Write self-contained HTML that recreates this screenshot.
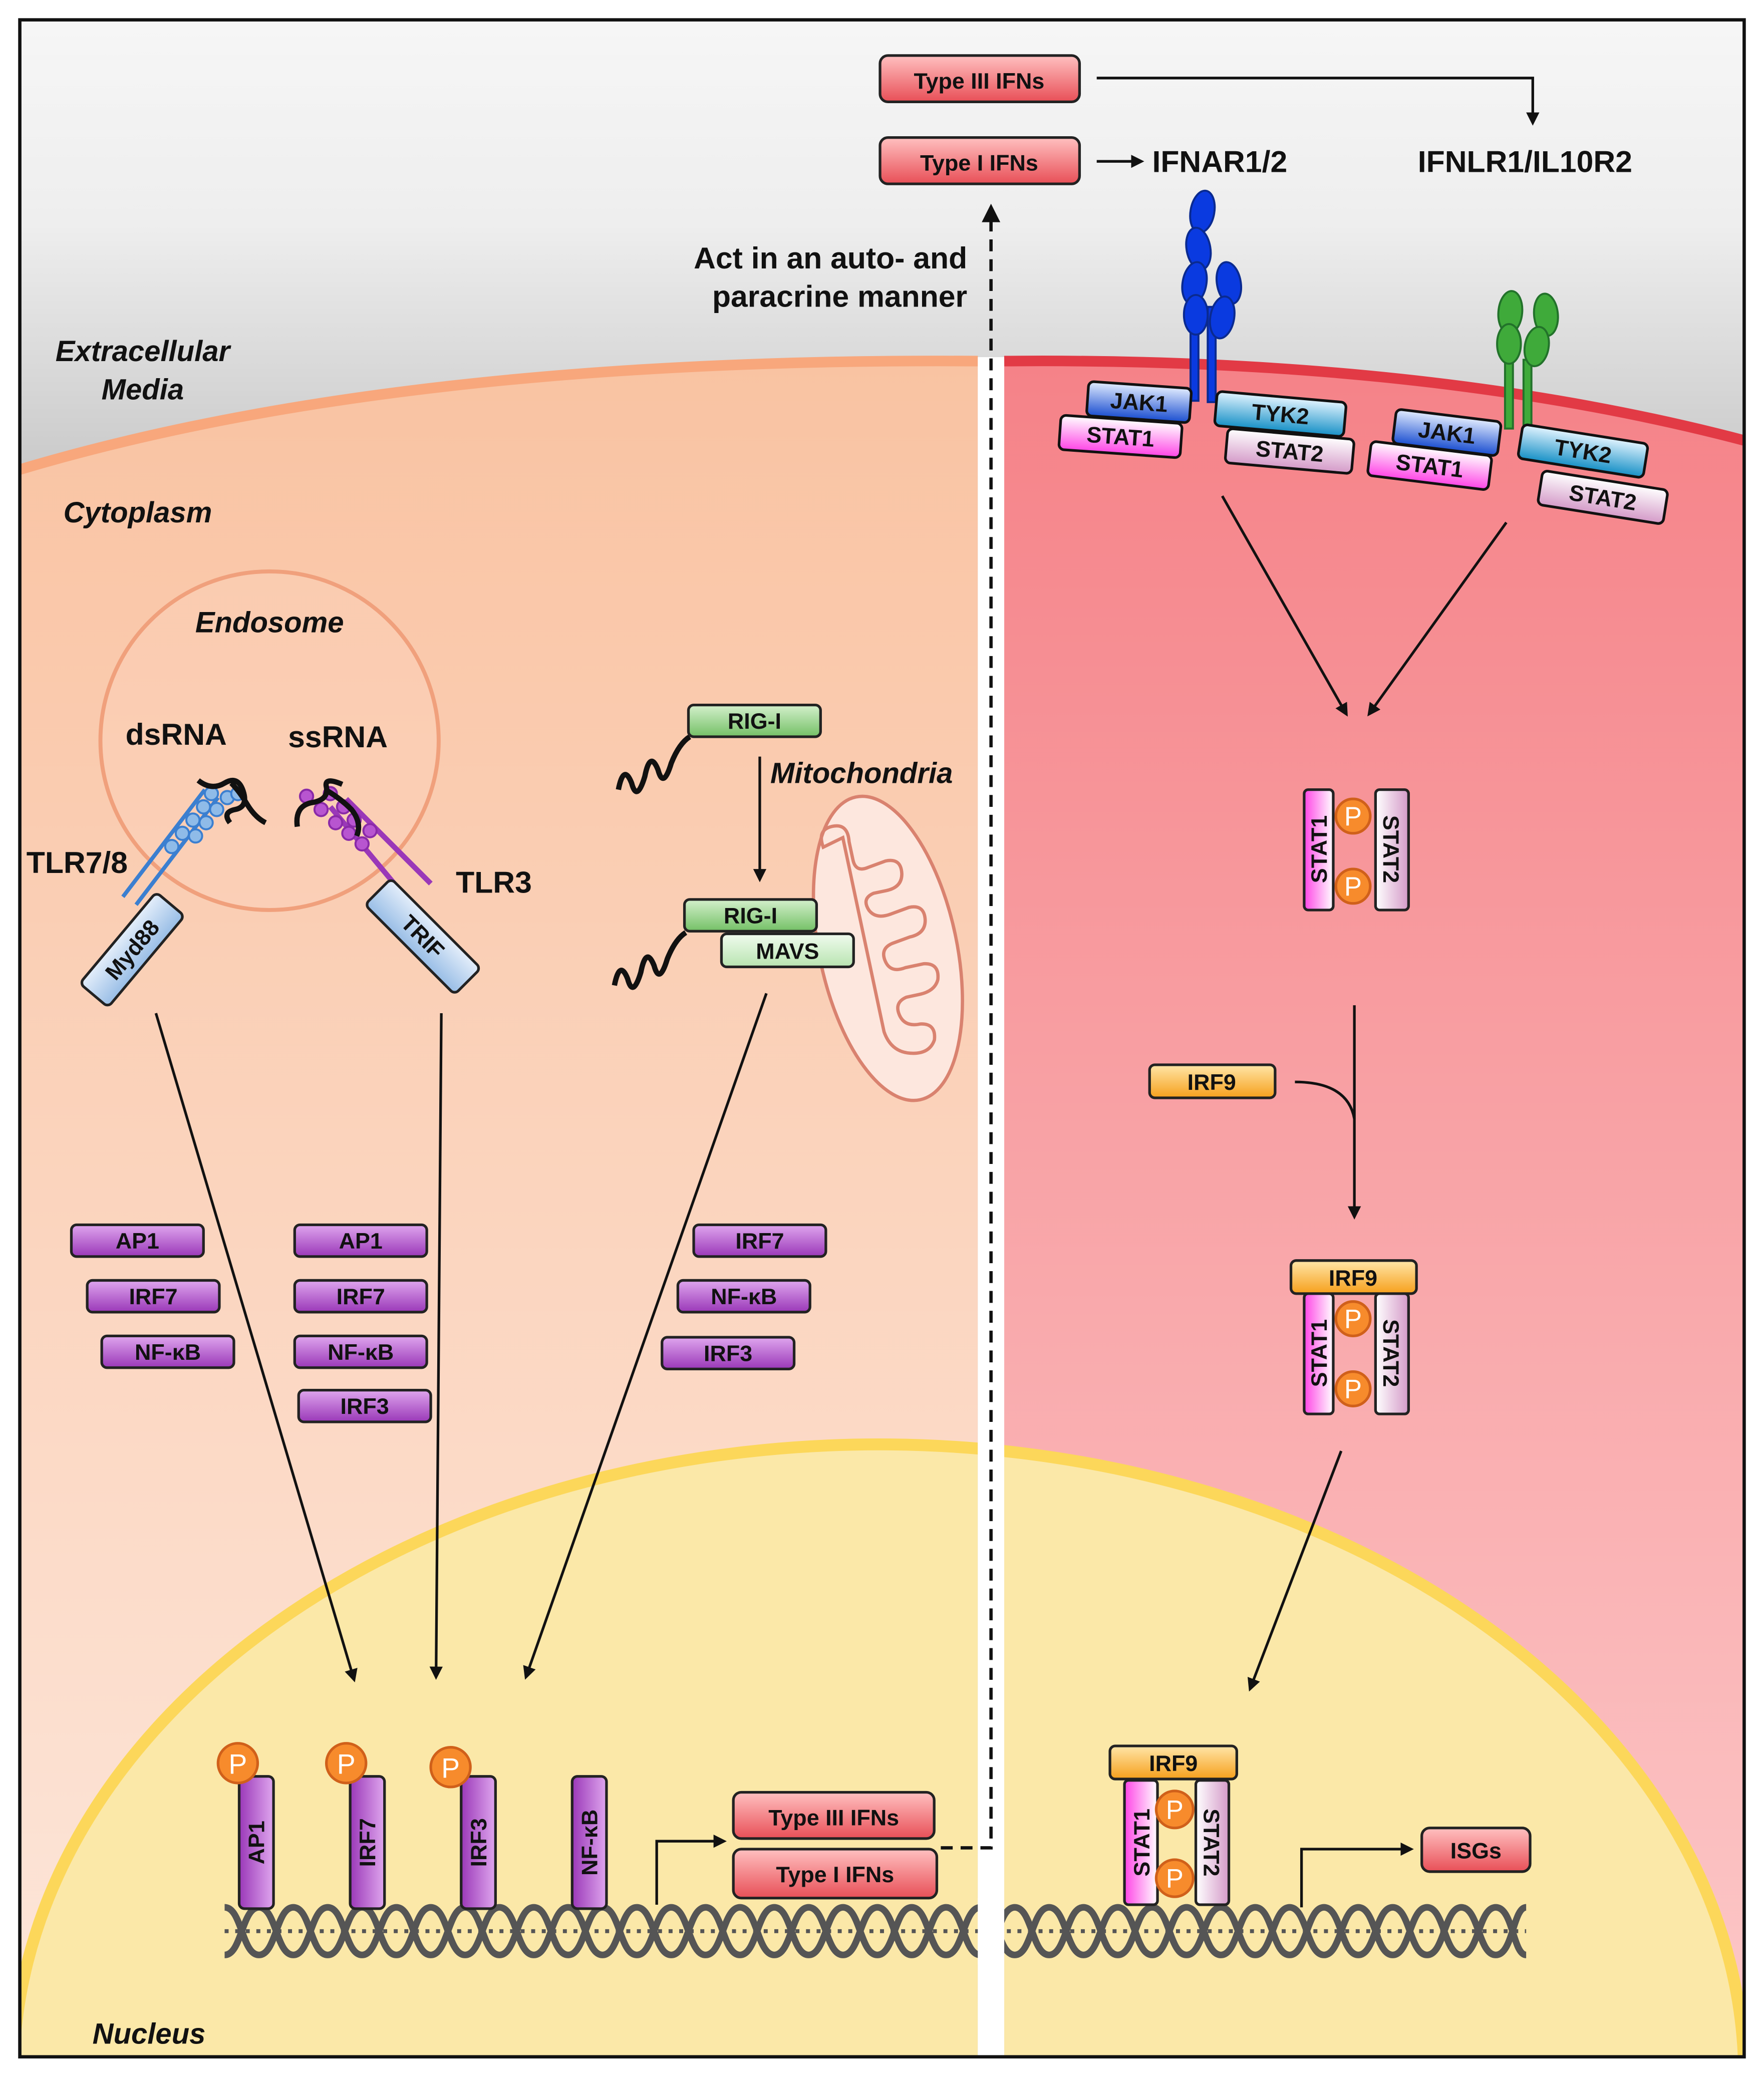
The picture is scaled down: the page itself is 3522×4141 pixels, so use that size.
<!DOCTYPE html>
<html><head><meta charset="utf-8"><style>
html,body{margin:0;padding:0;background:#fff;overflow:hidden;width:3522px;height:4141px}
svg{display:block}
text{font-family:"Liberation Sans",sans-serif;font-weight:bold;fill:#111}
.b{font-size:17px;text-anchor:middle}
.lab{font-size:23px}
.it{font-style:italic;font-size:22px}
</style></head><body>
<svg width="3522" height="4141" viewBox="0 0 1335 1568" preserveAspectRatio="none" xmlns="http://www.w3.org/2000/svg">
<defs>
<linearGradient id="bg" x1="0" y1="0" x2="0" y2="1"><stop offset="0" stop-color="#f6f6f6"/><stop offset="0.1" stop-color="#eeeeee"/><stop offset="0.24" stop-color="#c4c4c4"/><stop offset="1" stop-color="#c4c4c4"/></linearGradient>
<linearGradient id="lc" x1="0" y1="0" x2="0" y2="1"><stop offset="0" stop-color="#f9c3a2"/><stop offset="1" stop-color="#fde6da"/></linearGradient>
<linearGradient id="rc" x1="0" y1="0" x2="0" y2="1"><stop offset="0" stop-color="#f58288"/><stop offset="1" stop-color="#fcc8c8"/></linearGradient>
<linearGradient id="pu" x1="0" y1="0" x2="0" y2="1"><stop offset="0" stop-color="#dfa6ee"/><stop offset="1" stop-color="#9a38b8"/></linearGradient>
<linearGradient id="puv" x1="0" y1="0" x2="1" y2="0"><stop offset="0" stop-color="#9a38b8"/><stop offset="1" stop-color="#dfa6ee"/></linearGradient>
<linearGradient id="rd" x1="0" y1="0" x2="0" y2="1"><stop offset="0" stop-color="#ffc0c0"/><stop offset="1" stop-color="#e84f57"/></linearGradient>
<linearGradient id="gr" x1="0" y1="0" x2="0" y2="1"><stop offset="0" stop-color="#d4f0cc"/><stop offset="1" stop-color="#74c066"/></linearGradient>
<linearGradient id="grl" x1="0" y1="0" x2="0" y2="1"><stop offset="0" stop-color="#f0fbee"/><stop offset="1" stop-color="#b8e4b0"/></linearGradient>
<linearGradient id="or" x1="0" y1="0" x2="0" y2="1"><stop offset="0" stop-color="#ffe6a8"/><stop offset="1" stop-color="#f6a01c"/></linearGradient>
<linearGradient id="lb" x1="0" y1="0" x2="0" y2="1"><stop offset="0" stop-color="#e4eefa"/><stop offset="1" stop-color="#98bde6"/></linearGradient>
<linearGradient id="s1" x1="0" y1="0" x2="0" y2="1"><stop offset="0" stop-color="#fff"/><stop offset="1" stop-color="#ff44e6"/></linearGradient>
<linearGradient id="s2" x1="0" y1="0" x2="0" y2="1"><stop offset="0" stop-color="#fff"/><stop offset="1" stop-color="#d49ac8"/></linearGradient>
<linearGradient id="s1v" x1="0" y1="0" x2="1" y2="0"><stop offset="0" stop-color="#ff44e6"/><stop offset="1" stop-color="#fff"/></linearGradient>
<linearGradient id="s2v" x1="0" y1="0" x2="1" y2="0"><stop offset="0" stop-color="#fff"/><stop offset="1" stop-color="#d49ac8"/></linearGradient>
<linearGradient id="jk" x1="0" y1="0" x2="0" y2="1"><stop offset="0" stop-color="#e2ecff"/><stop offset="1" stop-color="#1a4ed0"/></linearGradient>
<linearGradient id="ty" x1="0" y1="0" x2="0" y2="1"><stop offset="0" stop-color="#e2f4ff"/><stop offset="1" stop-color="#1690c6"/></linearGradient>
<marker id="ah" markerWidth="10" markerHeight="10" refX="8" refY="5" orient="auto" markerUnits="userSpaceOnUse"><path d="M0,0 L10,5 L0,10 z" fill="#111"/></marker>
<clipPath id="cellL"><path d="M15,355 Q300,270 740,273 L740,1555 L15,1555 z"/></clipPath>
<clipPath id="cellR"><path d="M760,273 Q1080,270 1320,333 L1320,1555 L760,1555 z"/></clipPath>
</defs>
<rect x="0" y="0" width="1335" height="1568" fill="#fff"/>
<rect x="15" y="15" width="1305" height="1540" fill="url(#bg)"/>
<path d="M15,355 Q300,270 740,273 L740,1555 L15,1555 z" fill="url(#lc)"/>
<path d="M760,273 Q1080,270 1320,333 L1320,1555 L760,1555 z" fill="url(#rc)"/>
<g clip-path="url(#cellL)"><ellipse cx="665" cy="1570" rx="655" ry="478" fill="#fbe8a8" stroke="#fcd75a" stroke-width="9"/></g>
<g clip-path="url(#cellR)"><ellipse cx="665" cy="1570" rx="655" ry="478" fill="#fbe8a8" stroke="#fcd75a" stroke-width="9"/></g>
<path d="M15,355 Q300,270 740,273" fill="none" stroke="#f8a77c" stroke-width="8"/>
<path d="M760,273 Q1080,270 1320,333" fill="none" stroke="#e23a45" stroke-width="8"/>
<rect x="740" y="270" width="20" height="1286" fill="#fff"/>
<rect x="15" y="15" width="1305" height="1540" fill="none" stroke="#111" stroke-width="2.5"/>

<rect x="666" y="42" width="151" height="35" rx="6" fill="url(#rd)" stroke="#222" stroke-width="2"/>
<text class="b" x="741" y="67">Type III IFNs</text>
<rect x="666" y="104" width="151" height="35" rx="6" fill="url(#rd)" stroke="#222" stroke-width="2"/>
<text class="b" x="741" y="129">Type I IFNs</text>
<path d="M830,59 L1160,59 L1160,93" fill="none" stroke="#111" stroke-width="2" marker-end="url(#ah)"/>
<line x1="830" y1="122" x2="864" y2="122" stroke="#111" stroke-width="2" marker-end="url(#ah)"/>
<text class="lab" x="872" y="130">IFNAR1/2</text>
<text class="lab" x="1073" y="130">IFNLR1/IL10R2</text>
<text class="lab" x="732" y="203" text-anchor="end">Act in an auto- and</text>
<text class="lab" x="732" y="232" text-anchor="end">paracrine manner</text>
<path d="M712,1397 L750,1397 L750,160" fill="none" stroke="#111" stroke-width="2.5" stroke-dasharray="9,6"/>
<path d="M743,168 L750,154 L757,168 z" fill="#111"/>

<text class="it" x="108" y="273" text-anchor="middle">Extracellular</text>
<text class="it" x="108" y="302" text-anchor="middle">Media</text>
<text class="it" x="48" y="395">Cytoplasm</text>
<text class="it" x="70" y="1545">Nucleus</text>

<circle cx="204" cy="560" r="128" fill="#fcd2bc" fill-opacity="0.4" stroke="#f0a07c" stroke-width="3"/>
<text class="it" x="204" y="478" text-anchor="middle">Endosome</text>
<text class="lab" x="95" y="563">dsRNA</text>
<text class="lab" x="218" y="565">ssRNA</text>
<text class="lab" x="20" y="660">TLR7/8</text>
<text class="lab" x="345" y="675">TLR3</text>
<g stroke="#3b7fd0" stroke-width="3" fill="none"><line x1="93" y1="678" x2="155" y2="597"/><line x1="103" y1="684" x2="165" y2="603"/></g>
<g fill="#8fbbe8" stroke="#3b7fd0" stroke-width="1.5">
<circle cx="130" cy="640" r="5"/><circle cx="138" cy="630" r="5"/><circle cx="146" cy="620" r="5"/><circle cx="154" cy="610" r="5"/><circle cx="160" cy="600" r="5"/><circle cx="148" cy="632" r="5"/><circle cx="156" cy="622" r="5"/><circle cx="164" cy="612" r="5"/><circle cx="172" cy="603" r="5"/><circle cx="180" cy="600" r="5"/></g>
<path d="M150,590 q10,8 20,2 q10,-6 14,6 q4,12 -6,14 q-10,2 -4,10 M175,592 q6,6 12,16 q6,10 14,14" fill="none" stroke="#111" stroke-width="4"/>
<g transform="translate(100,718) rotate(-50)"><rect x="-45" y="-14" width="90" height="28" rx="4" fill="url(#lb)" stroke="#222" stroke-width="2"/><text class="b" x="0" y="6">Myd88</text></g>
<g stroke="#9a38b8" stroke-width="4" fill="none"><line x1="250" y1="610" x2="300" y2="670"/><line x1="262" y1="604" x2="326" y2="668"/></g>
<g fill="#b855d0" stroke="#8a2aa8" stroke-width="1.5">
<circle cx="232" cy="602" r="5"/><circle cx="243" cy="612" r="5"/><circle cx="254" cy="622" r="5"/><circle cx="264" cy="630" r="5"/><circle cx="274" cy="638" r="5"/><circle cx="250" cy="600" r="5"/><circle cx="260" cy="610" r="5"/><circle cx="268" cy="620" r="5"/><circle cx="280" cy="628" r="5"/></g>
<path d="M225,625 q-2,-15 10,-18 q14,-2 12,-12 q-2,-8 12,-2 M248,598 q10,6 18,14 q8,10 4,20" fill="none" stroke="#111" stroke-width="4"/>
<g transform="translate(320,708) rotate(45)"><rect x="-48" y="-14" width="96" height="28" rx="4" fill="url(#lb)" stroke="#222" stroke-width="2"/><text class="b" x="0" y="6">TRIF</text></g>

<path d="M468,597 q4,-20 10,-5 q4,15 10,-5 q4,-20 10,-5 q4,15 10,-5 q6,-15 14,-20" fill="none" stroke="#111" stroke-width="4"/>
<rect x="521" y="533" width="100" height="24" rx="4" fill="url(#gr)" stroke="#222" stroke-width="2"/><text class="b" x="571" y="551">RIG-I</text>
<line x1="575" y1="572" x2="575" y2="665" stroke="#111" stroke-width="2" marker-end="url(#ah)"/>
<text class="it" x="583" y="592">Mitochondria</text>
<g transform="translate(672,717) rotate(-12)"><ellipse cx="0" cy="0" rx="52" ry="117" fill="#fde7de" stroke="#d9826f" stroke-width="2.5"/>
<path d="M-32,-85 q-2,-14 10,-14 q12,0 10,14 l0,14 q0,10 10,8 l14,-2 q12,0 10,12 q-2,10 -14,10 l-10,0 q-10,2 -6,12 q4,8 16,6 l14,-2 q12,0 10,12 q-2,10 -14,10 l-14,2 q-10,2 -8,12 q2,10 14,8 l14,0 q12,2 8,14 q-4,8 -16,8 l-10,0 q-10,2 -8,12 q2,10 14,10 q12,2 8,14 q-6,10 -20,6 q-14,-4 -16,-20 l0,-150 z" fill="none" stroke="#d9826f" stroke-width="2.5"/></g>
<path d="M465,745 q4,-20 10,-5 q4,15 10,-5 q4,-20 10,-5 q4,15 10,-5 q6,-15 14,-20" fill="none" stroke="#111" stroke-width="4"/>
<rect x="518" y="680" width="100" height="24" rx="4" fill="url(#gr)" stroke="#222" stroke-width="2"/><text class="b" x="568" y="698">RIG-I</text>
<rect x="546" y="706" width="100" height="25" rx="4" fill="url(#grl)" stroke="#222" stroke-width="2"/><text class="b" x="596" y="725">MAVS</text>

<g stroke="#111" stroke-width="2" marker-end="url(#ah)">
<line x1="118" y1="766" x2="268" y2="1270"/>
<line x1="334" y1="766" x2="330" y2="1268"/>
<line x1="580" y1="751" x2="398" y2="1268"/>
</g>

<g stroke="#222" stroke-width="2" fill="url(#pu)">
<rect x="54" y="926" width="100" height="24" rx="4"/><rect x="66" y="968" width="100" height="24" rx="4"/><rect x="77" y="1010" width="100" height="24" rx="4"/>
<rect x="223" y="926" width="100" height="24" rx="4"/><rect x="223" y="968" width="100" height="24" rx="4"/><rect x="223" y="1010" width="100" height="24" rx="4"/><rect x="226" y="1051" width="100" height="24" rx="4"/>
<rect x="525" y="926" width="100" height="24" rx="4"/><rect x="513" y="968" width="100" height="24" rx="4"/><rect x="501" y="1011" width="100" height="24" rx="4"/>
</g>
<text class="b" x="104" y="944">AP1</text><text class="b" x="116" y="986">IRF7</text><text class="b" x="127" y="1028">NF-κB</text>
<text class="b" x="273" y="944">AP1</text><text class="b" x="273" y="986">IRF7</text><text class="b" x="273" y="1028">NF-κB</text><text class="b" x="276" y="1069">IRF3</text>
<text class="b" x="575" y="944">IRF7</text><text class="b" x="563" y="986">NF-κB</text><text class="b" x="551" y="1029">IRF3</text>

<g fill="none" stroke="#555" stroke-width="5">
<path id="h1" d="M170,1442 C183,1442 183,1478 196,1478 C209,1478 209,1442 222,1442 C235,1442 235,1478 248,1478 C261,1478 261,1442 274,1442 C287,1442 287,1478 300,1478 C313,1478 313,1442 326,1442 C339,1442 339,1478 352,1478 C365,1478 365,1442 378,1442 C391,1442 391,1478 404,1478 C417,1478 417,1442 430,1442 C443,1442 443,1478 456,1478 C469,1478 469,1442 482,1442 C495,1442 495,1478 508,1478 C521,1478 521,1442 534,1442 C547,1442 547,1478 560,1478 C573,1478 573,1442 586,1442 C599,1442 599,1478 612,1478 C625,1478 625,1442 638,1442 C651,1442 651,1478 664,1478 C677,1478 677,1442 690,1442 C703,1442 703,1478 716,1478 C729,1478 729,1442 742,1442 C755,1442 755,1478 768,1478 C781,1478 781,1442 794,1442 C807,1442 807,1478 820,1478 C833,1478 833,1442 846,1442 C859,1442 859,1478 872,1478 C885,1478 885,1442 898,1442 C911,1442 911,1478 924,1478 C937,1478 937,1442 950,1442 C963,1442 963,1478 976,1478 C989,1478 989,1442 1002,1442 C1015,1442 1015,1478 1028,1478 C1041,1478 1041,1442 1054,1442 C1067,1442 1067,1478 1080,1478 C1093,1478 1093,1442 1106,1442 C1119,1442 1119,1478 1132,1478 C1145,1478 1145,1442 1155,1442"/>
<use href="#h1" transform="translate(0,2920) scale(1,-1)"/>
</g>
<line x1="170" y1="1460" x2="1155" y2="1460" stroke="#555" stroke-width="3" stroke-dasharray="3,5"/>
<rect x="740" y="1435" width="20" height="50" fill="#fff"/>

<g stroke="#222" stroke-width="2" fill="url(#puv)">
<rect x="181" y="1343" width="26" height="100" rx="4"/><rect x="265" y="1343" width="26" height="100" rx="4"/><rect x="349" y="1343" width="26" height="100" rx="4"/><rect x="433" y="1343" width="26" height="100" rx="4"/>
</g>
<text class="b" transform="translate(200,1393) rotate(-90)">AP1</text>
<text class="b" transform="translate(284,1393) rotate(-90)">IRF7</text>
<text class="b" transform="translate(368,1393) rotate(-90)">IRF3</text>
<text class="b" transform="translate(452,1393) rotate(-90)">NF-κB</text>
<g fill="#f78b2c" stroke="#d0601a" stroke-width="2"><circle cx="180" cy="1333" r="15"/><circle cx="262" cy="1333" r="15"/><circle cx="341" cy="1336" r="15"/></g>
<g font-size="21" text-anchor="middle"><text x="180" y="1341" style="fill:#fff;font-weight:normal">P</text><text x="262" y="1341" style="fill:#fff;font-weight:normal">P</text><text x="341" y="1344" style="fill:#fff;font-weight:normal">P</text></g>
<path d="M497,1440 L497,1392 L548,1392" fill="none" stroke="#111" stroke-width="2" marker-end="url(#ah)"/>
<rect x="555" y="1355" width="152" height="35" rx="6" fill="url(#rd)" stroke="#222" stroke-width="2"/><text class="b" x="631" y="1380">Type III IFNs</text>
<rect x="555" y="1398" width="154" height="37" rx="6" fill="url(#rd)" stroke="#222" stroke-width="2"/><text class="b" x="632" y="1423">Type I IFNs</text>

<g fill="#0a3ae0" stroke="#0a2a90" stroke-width="1.5">
<rect x="901" y="228" width="6" height="75"/><rect x="914" y="232" width="6" height="72"/>
<ellipse cx="910" cy="160" rx="9" ry="16" transform="rotate(10 910 160)"/>
<ellipse cx="907" cy="188" rx="9" ry="16" transform="rotate(-10 907 188)"/>
<ellipse cx="904" cy="214" rx="9" ry="16" transform="rotate(10 904 214)"/>
<ellipse cx="905" cy="238" rx="9" ry="15"/>
<ellipse cx="930" cy="214" rx="9" ry="16" transform="rotate(-10 930 214)"/>
<ellipse cx="925" cy="240" rx="9" ry="16" transform="rotate(10 925 240)"/>
</g>
<g fill="#3faa3a" stroke="#22722a" stroke-width="1.5">
<rect x="1139" y="268" width="6" height="56"/><rect x="1153" y="272" width="6" height="56"/>
<ellipse cx="1143" cy="236" rx="9" ry="16" transform="rotate(5 1143 236)"/>
<ellipse cx="1142" cy="260" rx="9" ry="15"/>
<ellipse cx="1170" cy="238" rx="9" ry="16" transform="rotate(-5 1170 238)"/>
<ellipse cx="1163" cy="262" rx="9" ry="15" transform="rotate(10 1163 262)"/>
</g>
<g stroke="#111" stroke-width="2">
<g transform="translate(862,304) rotate(4)"><rect x="-39" y="-13" width="78" height="26" rx="4" fill="url(#jk)"/><text class="b" x="0" y="6" stroke="none">JAK1</text></g>
<g transform="translate(848,330) rotate(4)"><rect x="-46" y="-13" width="92" height="26" rx="4" fill="url(#s1)"/><text class="b" x="0" y="6" stroke="none">STAT1</text></g>
<g transform="translate(969,313) rotate(5)"><rect x="-49" y="-13" width="98" height="26" rx="4" fill="url(#ty)"/><text class="b" x="0" y="6" stroke="none">TYK2</text></g>
<g transform="translate(976,341) rotate(5)"><rect x="-48" y="-13" width="96" height="26" rx="4" fill="url(#s2)"/><text class="b" x="0" y="6" stroke="none">STAT2</text></g>
<g transform="translate(1095,327) rotate(7)"><rect x="-40" y="-13" width="80" height="26" rx="4" fill="url(#jk)"/><text class="b" x="0" y="6" stroke="none">JAK1</text></g>
<g transform="translate(1082,352) rotate(7)"><rect x="-46" y="-13" width="92" height="26" rx="4" fill="url(#s1)"/><text class="b" x="0" y="6" stroke="none">STAT1</text></g>
<g transform="translate(1198,341) rotate(9)"><rect x="-48" y="-13" width="96" height="26" rx="4" fill="url(#ty)"/><text class="b" x="0" y="6" stroke="none">TYK2</text></g>
<g transform="translate(1213,376) rotate(9)"><rect x="-48" y="-13" width="96" height="26" rx="4" fill="url(#s2)"/><text class="b" x="0" y="6" stroke="none">STAT2</text></g>
</g>
<g stroke="#111" stroke-width="2" marker-end="url(#ah)">
<line x1="925" y1="375" x2="1019" y2="540"/>
<line x1="1140" y1="395" x2="1036" y2="540"/>
<line x1="1025" y1="760" x2="1025" y2="920"/>
<line x1="1015" y1="1097" x2="946" y2="1277"/>
</g>
<path d="M980,818 q40,0 45,28" fill="none" stroke="#111" stroke-width="2"/>

<g stroke="#222" stroke-width="2">
<rect x="987" y="597" width="22" height="91" rx="3" fill="url(#s1v)"/><rect x="1041" y="597" width="25" height="91" rx="3" fill="url(#s2v)"/>
<rect x="987" y="978" width="22" height="91" rx="3" fill="url(#s1v)"/><rect x="1041" y="978" width="25" height="91" rx="3" fill="url(#s2v)"/>
<rect x="851" y="1346" width="25" height="94" rx="3" fill="url(#s1v)"/><rect x="905" y="1346" width="25" height="94" rx="3" fill="url(#s2v)"/>
<rect x="870" y="805" width="95" height="25" rx="4" fill="url(#or)"/>
<rect x="977" y="953" width="95" height="25" rx="4" fill="url(#or)"/>
<rect x="840" y="1320" width="96" height="25" rx="4" fill="url(#or)"/>
<rect x="1076" y="1382" width="82" height="33" rx="6" fill="url(#rd)"/>
</g>
<g fill="#f78b2c" stroke="#d0601a" stroke-width="2">
<circle cx="1024" cy="617" r="13"/><circle cx="1024" cy="670" r="13"/>
<circle cx="1024" cy="997" r="13"/><circle cx="1024" cy="1050" r="13"/>
<circle cx="889" cy="1368" r="14"/><circle cx="889" cy="1420" r="14"/>
</g>
<g font-size="20" text-anchor="middle">
<text x="1024" y="624" style="fill:#fff;font-weight:normal">P</text><text x="1024" y="677" style="fill:#fff;font-weight:normal">P</text>
<text x="1024" y="1004" style="fill:#fff;font-weight:normal">P</text><text x="1024" y="1057" style="fill:#fff;font-weight:normal">P</text>
<text x="889" y="1375" style="fill:#fff;font-weight:normal">P</text><text x="889" y="1427" style="fill:#fff;font-weight:normal">P</text>
</g>
<text class="b" transform="translate(1004,642) rotate(-90)" font-size="15">STAT1</text>
<text class="b" transform="translate(1047,642) rotate(90)" font-size="15">STAT2</text>
<text class="b" transform="translate(1004,1023) rotate(-90)" font-size="15">STAT1</text>
<text class="b" transform="translate(1047,1023) rotate(90)" font-size="15">STAT2</text>
<text class="b" transform="translate(870,1393) rotate(-90)" font-size="15">STAT1</text>
<text class="b" transform="translate(911,1393) rotate(90)" font-size="15">STAT2</text>
<text class="b" x="917" y="824">IRF9</text>
<text class="b" x="1024" y="972">IRF9</text>
<text class="b" x="888" y="1339">IRF9</text>
<text class="b" x="1117" y="1405">ISGs</text>
<path d="M985,1442 L985,1398 L1068,1398" fill="none" stroke="#111" stroke-width="2" marker-end="url(#ah)"/>
</svg>
</body></html>
